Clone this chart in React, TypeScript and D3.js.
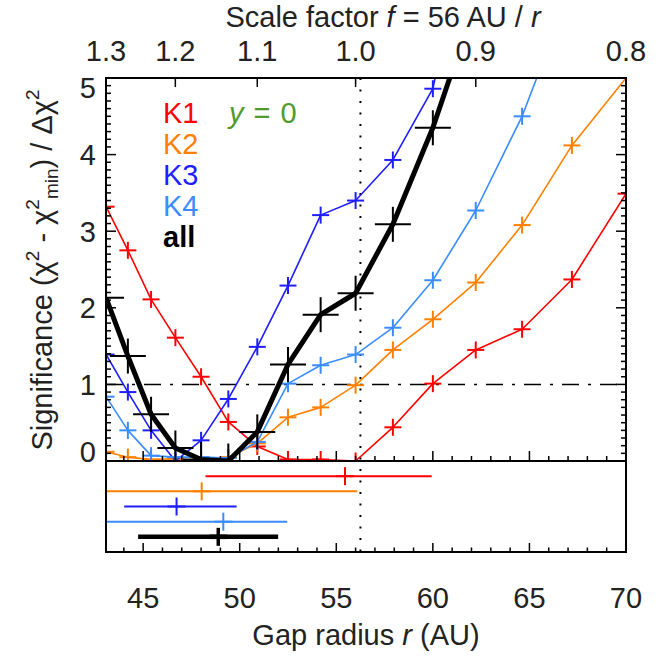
import React from "react";
import * as d3 from "d3";

// Gap radius grid (AU); uniform steps in scale factor f = 56 AU / r
const radius = [43.08, 44.21, 45.41, 46.67, 48.0, 49.41, 50.91, 52.5, 54.19, 56.0, 57.93, 60.0, 62.22, 64.62, 67.2, 70.0];
// Significance for each kernel (null = not drawn)
const k1 = [3.32, 2.75, 2.11, 1.61, 1.1, 0.51, 0.19, 0.02, 0.02, 0.0, 0.44, 1.01, 1.45, 1.72, 2.37, 3.49];
const k2 = [0.12, 0.05, 0.02, 0.03, 0.0, 0.05, 0.23, 0.57, 0.7, 0.99, 1.45, 1.85, 2.33, 3.08, 4.12, 5.0];
const k3 = [1.39, 0.9, 0.4, 0.0, 0.27, 0.81, 1.49, 2.29, 3.21, 3.4, 3.93, 4.86, 7.5, null, null, null];
const k4 = [0.84, 0.4, 0.07, 0.05, 0.05, 0.04, 0.25, 1.01, 1.25, 1.39, 1.74, 2.36, 3.27, 4.5, 6.2, null];
const all = [2.13, 1.37, 0.61, 0.17, 0.02, 0.0, 0.38, 1.26, 1.91, 2.19, 3.09, 4.35, 6.0, null, null, null];

const seriesNames = ["K1", "K2", "K3", "K4", "all"];
const seriesColors = ["#ff0000", "#ff8000", "#1e1eff", "#3a8cff", "#000000"];

// lower panel: best radius and range for each kernel
const bestRadius = [55.45, 48.03, 46.73, 49.15, 48.89];
const lowRadius = [48.23, 42.0, 44.02, 42.0, 44.74];
const highRadius = [59.94, 56.09, 49.84, 52.46, 51.99];

const xTicks = [45, 50, 55, 60, 65, 70];
const yTicks = [0, 1, 2, 3, 4, 5];
const fTicks = [1.3, 1.2, 1.1, 1.0, 0.9, 0.8];
const fLabels = ["1.3", "1.2", "1.1", "1.0", "0.9", "0.8"];
const refRadius = 56.25;
const threshold = 1;

const L = 106, R = 626, T = 78, MB = 461, LB = 552;
const FONT = "'Liberation Sans', Arial, Helvetica, sans-serif";
const FS = 29;

export default function App() {
  const x = d3.scaleLinear().domain([56 / 1.3, 70]).range([L, R]);
  const y = d3.scaleLinear().domain([0, 5]).range([MB, T]);
  const series = [k1, k2, k3, k4, all];

  const line = d3
    .line<[number, number | null]>()
    .defined((d) => d[1] !== null)
    .x((d) => x(d[0]))
    .y((d) => y(d[1] as number));

  const minorX = d3.range(44, 71, 1);
  const minorY = d3.range(0, 5.001, 0.1);

  const rowY = (i: number) => MB + ((i + 1) * (LB - MB)) / 6;
  const labelShift = (v: number) => (v === 5 ? 9 : v === 0 ? -10 : 0);

  return (
    <svg width={669} height={660} style={{ position: "absolute", left: 0, top: 0, background: "#fff" }} fontFamily={FONT}>
      <defs>
        <clipPath id="main">
          <rect x={L} y={T} width={R - L} height={MB - T} />
        </clipPath>
        <clipPath id="lower">
          <rect x={L} y={MB} width={R - L} height={LB - MB} />
        </clipPath>
      </defs>

      {/* reference lines */}
      <line x1={x(refRadius)} x2={x(refRadius)} y1={T} y2={LB} stroke="#000" strokeWidth={2} strokeDasharray="2,9.5" />
      <line x1={L} x2={R} y1={y(threshold)} y2={y(threshold)} stroke="#000" strokeWidth={1.5} strokeDasharray="17,9,3,9" />

      {/* main series */}
      <g clipPath="url(#main)">
        {series.map((s, si) => {
          const pts = radius.map((r, i) => [r, s[i]] as [number, number | null]);
          const isAll = si === 4;
          const hw = isAll ? 18 : 8.5;
          const hh = isAll ? 17.5 : 8.5;
          return (
            <g key={si}>
              <path d={line(pts) || ""} fill="none" stroke={seriesColors[si]} strokeWidth={isAll ? 5 : 1.6} strokeLinejoin="round" />
              {pts
                .filter((p) => p[1] !== null)
                .map((p, i) => {
                  const cx = x(p[0]);
                  const cy = y(p[1] as number);
                  return (
                    <g key={i} stroke={seriesColors[si]} strokeWidth={2}>
                      <line x1={cx - hw} x2={cx + hw} y1={cy} y2={cy} />
                      <line x1={cx} x2={cx} y1={cy - hh} y2={cy + hh} />
                    </g>
                  );
                })}
            </g>
          );
        })}
      </g>

      {/* lower panel */}
      <g clipPath="url(#lower)">
        {bestRadius.map((b, i) => {
          const isAll = i === 4;
          const cy = rowY(i);
          return (
            <g key={i} stroke={seriesColors[i]}>
              <line x1={x(lowRadius[i])} x2={x(highRadius[i])} y1={cy} y2={cy} strokeWidth={isAll ? 4.5 : 2} />
              <line x1={x(b) - 9} x2={x(b) + 9} y1={cy} y2={cy} strokeWidth={isAll ? 4.5 : 2} />
              <line x1={x(b)} x2={x(b)} y1={cy - 9} y2={cy + 9} strokeWidth={isAll ? 3.5 : 2} />
            </g>
          );
        })}
      </g>

      {/* ticks */}
      <g stroke="#000" strokeWidth={1.5}>
        {minorY.map((v, i) => {
          const major = Math.abs(v - Math.round(v)) < 1e-6;
          const len = major ? 10 : 5;
          return (
            <g key={i}>
              <line x1={L} x2={L + len} y1={y(v)} y2={y(v)} />
              <line x1={R} x2={R - len} y1={y(v)} y2={y(v)} />
            </g>
          );
        })}
        {minorX.map((r, i) => {
          const major = r % 5 === 0;
          return (
            <g key={i}>
              <line x1={x(r)} x2={x(r)} y1={MB} y2={MB - (major ? 10 : 5)} />
              <line x1={x(r)} x2={x(r)} y1={LB} y2={LB - (major ? 9 : 4.5)} />
            </g>
          );
        })}
        {fTicks.map((f, i) => (
          <line key={i} x1={x(56 / f)} x2={x(56 / f)} y1={T} y2={T + 9} />
        ))}
      </g>

      {/* frames */}
      <rect x={L} y={T} width={R - L} height={MB - T} fill="none" stroke="#000" strokeWidth={2} />
      <rect x={L} y={MB} width={R - L} height={LB - MB} fill="none" stroke="#000" strokeWidth={2} />

      {/* tick labels */}
      <g fontSize={FS} fill="#222">
        {yTicks.map((v) => (
          <text key={v} x={96} y={y(v) + 10.5 + labelShift(v)} textAnchor="end">{v}</text>
        ))}
        {xTicks.map((r) => (
          <text key={r} x={x(r)} y={608} textAnchor="middle">{r}</text>
        ))}
        {fTicks.map((f, i) => (
          <text key={i} x={x(56 / f)} y={61} textAnchor="middle">{fLabels[i]}</text>
        ))}
      </g>

      {/* axis titles */}
      <text x={(L + R) / 2 + 17} y={27} textAnchor="middle" fontSize={FS} fill="#222">
        Scale factor <tspan fontStyle="italic">f</tspan> = 56 AU / <tspan fontStyle="italic">r</tspan>
      </text>
      <text x={(L + R) / 2} y={645} textAnchor="middle" fontSize={FS} fill="#222">
        Gap radius <tspan fontStyle="italic">r</tspan> (AU)
      </text>
      <text transform="translate(52,270) rotate(-90)" textAnchor="middle" fontSize={FS} fill="#222">
        Significance (χ<tspan dy={-13} fontSize={19}>2</tspan>
        <tspan dy={13}> - χ</tspan>
        <tspan dy={-13} fontSize={19}>2</tspan>
        <tspan dy={19} fontSize={19}>min</tspan>
        <tspan dy={-6}>) / Δχ</tspan>
        <tspan dy={-13} fontSize={19}>2</tspan>
      </text>

      {/* legend */}
      <g fontSize={FS}>
        {seriesNames.map((n, i) => (
          <text key={n} x={163} y={123 + i * 30.9} fill={seriesColors[i]} fontWeight={i === 4 ? "bold" : "normal"}>
            {n}
          </text>
        ))}
        <text x={229} y={123} fill="#4e9a2e" letterSpacing={1}>
          <tspan fontStyle="italic">y</tspan> = 0
        </text>
      </g>
    </svg>
  );
}
